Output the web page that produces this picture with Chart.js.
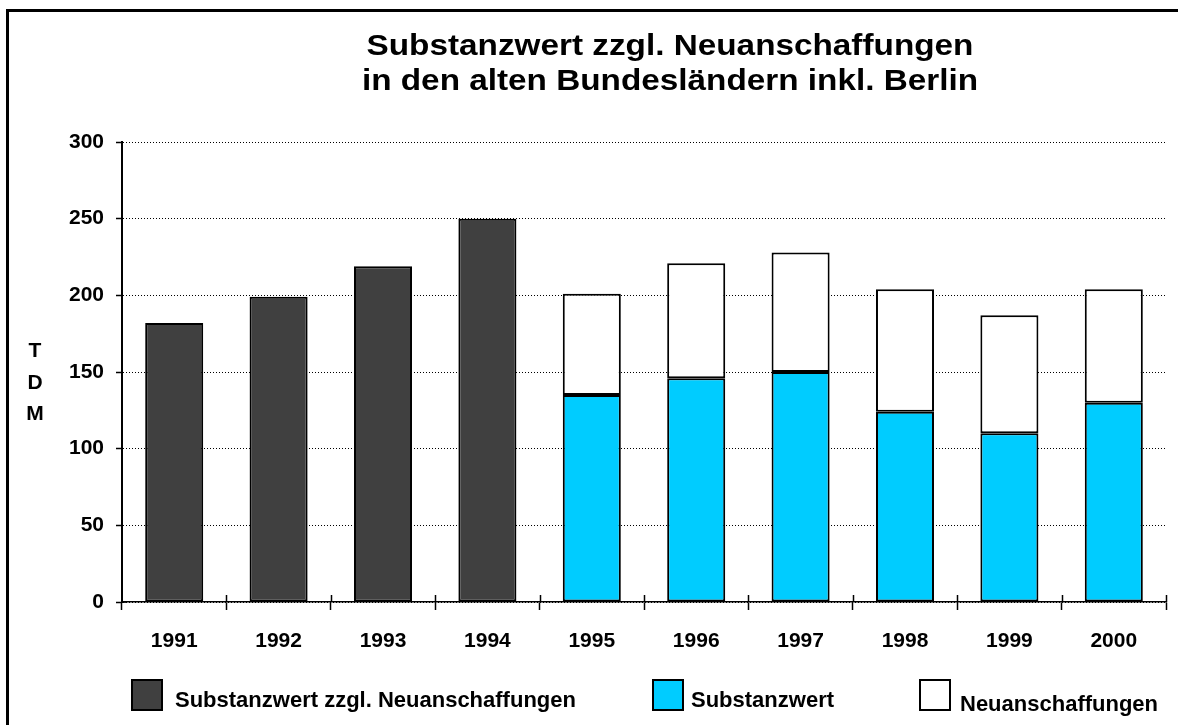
<!DOCTYPE html>
<html>
<head>
<meta charset="utf-8">
<script src="https://cdn.jsdelivr.net/npm/chart.js@4/dist/chart.umd.min.js"></script>
<style>
  html, body { margin: 0; padding: 0; background: #fff; overflow: hidden; }
  #wrap { position: relative; width: 1178px; height: 725px; }
  #frame { position: absolute; left: 6px; top: 9px; width: 1200px; height: 800px; border: 3px solid #000; box-sizing: border-box; pointer-events: none; }
</style>
</head>
<body>
<div id="wrap">
  <canvas id="c" width="1178" height="725"></canvas>
  <div id="frame"></div>
</div>
<script>
// ---- data ----
const years = ['1991','1992','1993','1994','1995','1996','1997','1998','1999','2000'];
const totalOld = [182, 199, 219, 250, null, null, null, null, null, null];
const substanzwert = [null, null, null, null, 135, 146, 150, 124, 110, 130];
const neuanschaffungen = [null, null, null, null, 66, 75, 78, 80, 77, 74];
const seriesNames = ['Substanzwert zzgl. Neuanschaffungen', 'Substanzwert', 'Neuanschaffungen'];
const titleLines = ['Substanzwert zzgl. Neuanschaffungen', 'in den alten Bundesländern inkl. Berlin'];
const yAxisLetters = ['T', 'D', 'M'];
const yMin = 0, yMax = 300, yStep = 50;

const FONT = '"Liberation Sans", Arial, sans-serif';

const decorPlugin = {
  id: 'decor',
  afterDraw(chart) {
    const ctx = chart.ctx;
    const xs = chart.scales.x;
    const area = chart.chartArea;
    ctx.save();
    // title
    ctx.fillStyle = '#000';
    ctx.font = 'bold 30px ' + FONT;
    ctx.textAlign = 'center';
    ctx.textBaseline = 'alphabetic';
    titleLines.forEach((t, i) => {
      ctx.save();
      ctx.translate(670, 55 + i * 35);
      ctx.scale(1.11, 1);
      ctx.fillText(t, 0, 0);
      ctx.restore();
    });
    // vertical axis label
    ctx.font = 'bold 21px ' + FONT;
    yAxisLetters.forEach((l, i) => {
      ctx.fillText(l, 35, 357 + i * 31.5);
    });
    // tick marks above x axis at category boundaries
    const step = xs.getPixelForValue(1) - xs.getPixelForValue(0);
    ctx.strokeStyle = '#000';
    ctx.lineWidth = 1.5;
    ctx.beginPath();
    for (let i = 1; i <= years.length; i++) {
      const bx = Math.round(xs.getPixelForValue(i) - step / 2) + 0.5;
      ctx.moveTo(bx, area.bottom - 7);
      ctx.lineTo(bx, area.bottom);
    }
    // small crossing tick at the origin
    ctx.moveTo(area.left, area.bottom);
    ctx.lineTo(area.left + 5, area.bottom);
    ctx.stroke();
    // legend
    const boxX = [132, 653, 920];
    const textX = [175, 691, 960];
    const textY = [707, 707, 711];
    ctx.textAlign = 'left';
    ctx.font = 'bold 22px ' + FONT;
    chart.data.datasets.forEach((ds, i) => {
      ctx.fillStyle = ds.backgroundColor;
      ctx.fillRect(boxX[i], 680, 30, 30);
      ctx.lineWidth = 2;
      ctx.strokeStyle = '#000';
      ctx.strokeRect(boxX[i], 680, 30, 30);
      ctx.fillStyle = '#000';
      ctx.fillText(ds.label, textX[i], textY[i]);
    });
    ctx.restore();
  }
};

new Chart(document.getElementById('c'), {
  type: 'bar',
  data: {
    labels: years,
    datasets: [
      { label: seriesNames[0], data: totalOld, backgroundColor: '#404040' },
      { label: seriesNames[1], data: substanzwert, backgroundColor: '#00CCFF' },
      { label: seriesNames[2], data: neuanschaffungen, backgroundColor: '#FFFFFF' }
    ].map(d => Object.assign(d, { borderColor: '#000', borderWidth: 2, borderSkipped: false, categoryPercentage: 1, barPercentage: 0.556 }))
  },
  options: {
    responsive: false,
    animation: false,
    layout: { padding: { top: 142, right: 12, left: 0, bottom: 0 } },
    plugins: { legend: { display: false }, title: { display: false }, tooltip: { enabled: false } },
    scales: {
      x: {
        stacked: true,
        offset: true,
        afterFit(s) { s.height = 123; },
        border: { display: true, color: '#000', width: 1.5 },
        grid: { offset: true, drawOnChartArea: false, drawTicks: true, tickLength: 8, tickColor: '#000', tickWidth: 1.5, color: '#000' },
        ticks: { color: '#000', font: { family: FONT, size: 21, weight: 'bold' }, padding: 19, maxRotation: 0 }
      },
      y: {
        stacked: true,
        min: yMin, max: yMax,
        afterFit(s) { s.width = 122; },
        border: { display: true, color: '#000', width: 2, dash: [1, 2] },
        grid: { color: '#000', lineWidth: 1, drawTicks: true, tickLength: 6, tickColor: '#000', tickWidth: 1.5, tickBorderDash: [] },
        ticks: { stepSize: yStep, color: '#000', font: { family: FONT, size: 21, weight: 'bold' }, padding: 12 }
      }
    }
  },
  plugins: [decorPlugin]
});
</script>
</body>
</html>
